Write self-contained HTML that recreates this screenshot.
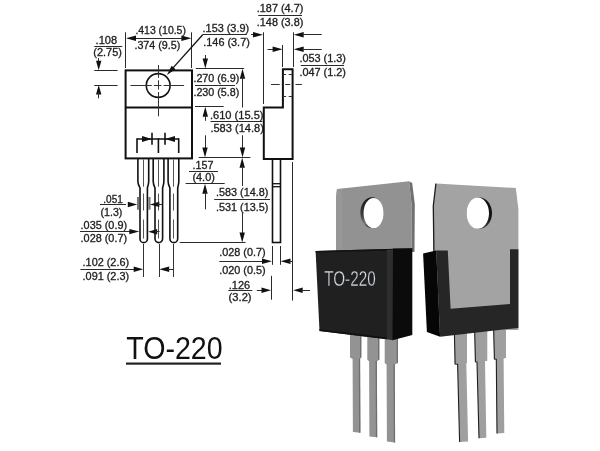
<!DOCTYPE html>
<html><head><meta charset="utf-8"><style>
html,body{margin:0;padding:0;background:#fff;}
svg{display:block;font-family:"Liberation Sans",sans-serif;will-change:transform;filter:blur(0.35px);}
</style></head><body>
<svg width="600" height="451" viewBox="0 0 600 451">
<rect width="600" height="451" fill="#fff"/>
<rect x="125.6" y="70.4" width="66.4" height="88" fill="none" stroke="#111" stroke-width="2"/>
<line x1="125.6" y1="107.6" x2="192" y2="107.6" stroke="#111" stroke-width="2"/>
<circle cx="158.2" cy="85.5" r="11.9" fill="none" stroke="#111" stroke-width="1.6"/>
<line x1="130.4" y1="85.5" x2="151.8" y2="85.5" stroke="#333" stroke-width="1"/>
<line x1="153.9" y1="85.5" x2="161.5" y2="85.5" stroke="#333" stroke-width="1"/>
<line x1="163.6" y1="85.5" x2="184.1" y2="85.5" stroke="#333" stroke-width="1"/>
<line x1="158.5" y1="65" x2="158.5" y2="77.8" stroke="#333" stroke-width="1"/>
<line x1="158.5" y1="80.3" x2="158.5" y2="89.5" stroke="#333" stroke-width="1"/>
<line x1="158.5" y1="92" x2="158.5" y2="116.3" stroke="#333" stroke-width="1"/>
<line x1="137" y1="139" x2="179" y2="139" stroke="#111" stroke-width="1.5"/>
<line x1="137" y1="138.3" x2="137" y2="153" stroke="#111" stroke-width="1.6"/>
<line x1="158.4" y1="138.3" x2="158.4" y2="153" stroke="#111" stroke-width="1.6"/>
<line x1="178.7" y1="138.3" x2="178.7" y2="153" stroke="#111" stroke-width="1.6"/>
<line x1="152" y1="132.7" x2="152" y2="144.7" stroke="#111" stroke-width="1.6"/>
<line x1="165" y1="132.7" x2="165" y2="144.7" stroke="#111" stroke-width="1.6"/>
<polygon points="152.00,139.00 142.00,136.00 142.00,142.00" fill="#111"/>
<polygon points="165.00,139.00 175.00,136.00 175.00,142.00" fill="#111"/>
<path d="M137.9,159 L137.9,181.5 Q137.9,184 140,188 L140,238.89999999999998 A3.700000000000003,3.700000000000003 0 0 0 147.4,238.89999999999998 L147.4,188 Q148.7,184 148.7,181.5 L148.7,159" fill="none" stroke="#111" stroke-width="1.6"/>
<line x1="143.5" y1="159.5" x2="143.5" y2="186.7" stroke="#555" stroke-width="1"/>
<line x1="143.5" y1="193.5" x2="143.5" y2="210.5" stroke="#555" stroke-width="1"/>
<line x1="143.5" y1="219.5" x2="143.5" y2="238.5" stroke="#555" stroke-width="1"/>
<path d="M153.2,159 L153.2,181.5 Q153.2,184 155,188 L155,238.8 A3.799999999999997,3.799999999999997 0 0 0 162.6,238.8 L162.6,188 Q163.9,184 163.9,181.5 L163.9,159" fill="none" stroke="#111" stroke-width="1.6"/>
<line x1="158.5" y1="159.5" x2="158.5" y2="186.7" stroke="#555" stroke-width="1"/>
<line x1="158.5" y1="193.5" x2="158.5" y2="210.5" stroke="#555" stroke-width="1"/>
<line x1="158.5" y1="219.5" x2="158.5" y2="238.5" stroke="#555" stroke-width="1"/>
<path d="M168.1,159 L168.1,181.5 Q168.1,184 169.9,188 L169.9,238.7 A3.8999999999999915,3.8999999999999915 0 0 0 177.7,238.7 L177.7,188 Q178.8,184 178.8,181.5 L178.8,159" fill="none" stroke="#111" stroke-width="1.6"/>
<line x1="173.5" y1="159.5" x2="173.5" y2="186.7" stroke="#555" stroke-width="1"/>
<line x1="173.5" y1="193.5" x2="173.5" y2="210.5" stroke="#555" stroke-width="1"/>
<line x1="173.5" y1="219.5" x2="173.5" y2="238.5" stroke="#555" stroke-width="1"/>
<line x1="143.5" y1="244" x2="143.5" y2="277" stroke="#333" stroke-width="1"/>
<line x1="159.5" y1="244" x2="159.5" y2="277" stroke="#333" stroke-width="1"/>
<line x1="173.5" y1="244" x2="173.5" y2="277" stroke="#333" stroke-width="1"/>
<text x="95.6" y="44.00" font-size="10.0" fill="#1e1e1e" textLength="21.5" lengthAdjust="spacingAndGlyphs" stroke="#1e1e1e" stroke-width="0.3">.108</text>
<line x1="94.3" y1="46.5" x2="122.3" y2="46.5" stroke="#2a2a2a" stroke-width="1"/>
<text x="93.3" y="56.30" font-size="10.0" fill="#1e1e1e" textLength="28.6" lengthAdjust="spacingAndGlyphs" stroke="#1e1e1e" stroke-width="0.3">(2.75)</text>
<line x1="98.5" y1="58" x2="98.5" y2="62" stroke="#2a2a2a" stroke-width="1"/>
<polygon points="98.70,70.20 96.00,60.70 101.40,60.70" fill="#111"/>
<line x1="94.3" y1="70.5" x2="117.6" y2="70.5" stroke="#2a2a2a" stroke-width="1"/>
<line x1="94.3" y1="85.5" x2="117.6" y2="85.5" stroke="#2a2a2a" stroke-width="1"/>
<polygon points="98.70,85.10 96.00,94.60 101.40,94.60" fill="#111"/>
<line x1="98.5" y1="92" x2="98.5" y2="98.3" stroke="#2a2a2a" stroke-width="1"/>
<line x1="125.5" y1="32.3" x2="125.5" y2="68" stroke="#2a2a2a" stroke-width="1"/>
<line x1="191.5" y1="32.3" x2="191.5" y2="68" stroke="#2a2a2a" stroke-width="1"/>
<line x1="128" y1="38.5" x2="189" y2="38.5" stroke="#2a2a2a" stroke-width="1"/>
<polygon points="126.00,38.20 136.00,35.50 136.00,40.90" fill="#111"/>
<polygon points="191.40,38.20 181.40,35.50 181.40,40.90" fill="#111"/>
<text x="135.4" y="34.30" font-size="10.0" fill="#1e1e1e" textLength="50.5" lengthAdjust="spacingAndGlyphs" stroke="#1e1e1e" stroke-width="0.3">.413 (10.5)</text>
<text x="134.4" y="48.80" font-size="10.0" fill="#1e1e1e" textLength="46" lengthAdjust="spacingAndGlyphs" stroke="#1e1e1e" stroke-width="0.3">.374 (9.5)</text>
<line x1="202.5" y1="34.5" x2="246.7" y2="34.5" stroke="#2a2a2a" stroke-width="1"/>
<line x1="202.7" y1="34.7" x2="171" y2="70.1" stroke="#111" stroke-width="1.3"/>
<polygon points="166.9,74.9 175.50,69.16 171.61,65.70" fill="#111"/>
<text x="202.6" y="31.50" font-size="10.0" fill="#1e1e1e" textLength="46.5" lengthAdjust="spacingAndGlyphs" stroke="#1e1e1e" stroke-width="0.3">.153 (3.9)</text>
<text x="203.3" y="45.50" font-size="10.0" fill="#1e1e1e" textLength="46.5" lengthAdjust="spacingAndGlyphs" stroke="#1e1e1e" stroke-width="0.3">.146 (3.7)</text>
<line x1="195.8" y1="68.5" x2="244.2" y2="68.5" stroke="#2a2a2a" stroke-width="1"/>
<line x1="205.5" y1="55" x2="205.5" y2="60" stroke="#2a2a2a" stroke-width="1"/>
<polygon points="205.30,68.60 202.60,58.60 208.00,58.60" fill="#111"/>
<text x="193.4" y="81.50" font-size="10.0" fill="#1e1e1e" textLength="46" lengthAdjust="spacingAndGlyphs" stroke="#1e1e1e" stroke-width="0.3">.270 (6.9)</text>
<line x1="195" y1="85.5" x2="235" y2="85.5" stroke="#2a2a2a" stroke-width="1"/>
<text x="193.4" y="95.60" font-size="10.0" fill="#1e1e1e" textLength="46" lengthAdjust="spacingAndGlyphs" stroke="#1e1e1e" stroke-width="0.3">.230 (5.8)</text>
<line x1="195" y1="106.5" x2="223.7" y2="106.5" stroke="#2a2a2a" stroke-width="1"/>
<polygon points="205.30,106.80 202.60,116.80 208.00,116.80" fill="#111"/>
<line x1="205.5" y1="115" x2="205.5" y2="120.8" stroke="#2a2a2a" stroke-width="1"/>
<polygon points="242.50,68.80 239.80,78.80 245.20,78.80" fill="#111"/>
<line x1="242.5" y1="76" x2="242.5" y2="107.5" stroke="#2a2a2a" stroke-width="1"/>
<text x="210" y="118.50" font-size="10.0" fill="#1e1e1e" textLength="53.5" lengthAdjust="spacingAndGlyphs" stroke="#1e1e1e" stroke-width="0.3">.610 (15.5)</text>
<line x1="210.5" y1="121.5" x2="262.5" y2="121.5" stroke="#2a2a2a" stroke-width="1"/>
<text x="210.4" y="132.40" font-size="10.0" fill="#1e1e1e" textLength="53.5" lengthAdjust="spacingAndGlyphs" stroke="#1e1e1e" stroke-width="0.3">.583 (14.8)</text>
<line x1="242.5" y1="135.3" x2="242.5" y2="150" stroke="#2a2a2a" stroke-width="1"/>
<polygon points="242.50,157.60 239.80,147.60 245.20,147.60" fill="#111"/>
<line x1="198.7" y1="157.5" x2="250.4" y2="157.5" stroke="#2a2a2a" stroke-width="1"/>
<line x1="205.5" y1="135.3" x2="205.5" y2="150" stroke="#2a2a2a" stroke-width="1"/>
<polygon points="205.00,157.60 202.30,147.60 207.70,147.60" fill="#111"/>
<text x="192.6" y="169.10" font-size="10.0" fill="#1e1e1e" textLength="20.8" lengthAdjust="spacingAndGlyphs" stroke="#1e1e1e" stroke-width="0.3">.157</text>
<line x1="189" y1="171.5" x2="218" y2="171.5" stroke="#2a2a2a" stroke-width="1"/>
<text x="192.4" y="181.30" font-size="10.0" fill="#1e1e1e" textLength="22.5" lengthAdjust="spacingAndGlyphs" stroke="#1e1e1e" stroke-width="0.3">(4.0)</text>
<line x1="185.6" y1="183.5" x2="224.7" y2="183.5" stroke="#2a2a2a" stroke-width="1"/>
<polygon points="205.00,183.70 202.30,193.70 207.70,193.70" fill="#111"/>
<line x1="205.5" y1="192" x2="205.5" y2="209.3" stroke="#2a2a2a" stroke-width="1"/>
<polygon points="242.20,157.80 239.50,167.80 244.90,167.80" fill="#111"/>
<line x1="242.5" y1="166" x2="242.5" y2="186" stroke="#2a2a2a" stroke-width="1"/>
<text x="216" y="196.40" font-size="10.0" fill="#1e1e1e" textLength="52.3" lengthAdjust="spacingAndGlyphs" stroke="#1e1e1e" stroke-width="0.3">.583 (14.8)</text>
<line x1="214.2" y1="199.5" x2="270" y2="199.5" stroke="#2a2a2a" stroke-width="1"/>
<text x="216" y="210.60" font-size="10.0" fill="#1e1e1e" textLength="52.3" lengthAdjust="spacingAndGlyphs" stroke="#1e1e1e" stroke-width="0.3">.531 (13.5)</text>
<line x1="242.5" y1="212.7" x2="242.5" y2="234" stroke="#2a2a2a" stroke-width="1"/>
<polygon points="242.20,242.40 239.50,232.40 244.90,232.40" fill="#111"/>
<line x1="179.7" y1="242.5" x2="245.5" y2="242.5" stroke="#2a2a2a" stroke-width="1"/>
<text x="103.3" y="202.50" font-size="10.0" fill="#1e1e1e" textLength="19.5" lengthAdjust="spacingAndGlyphs" stroke="#1e1e1e" stroke-width="0.3">.051</text>
<line x1="100" y1="204.5" x2="126" y2="204.5" stroke="#2a2a2a" stroke-width="1"/>
<polygon points="137.30,204.50 127.80,201.80 127.80,207.20" fill="#111"/>
<text x="100.6" y="215.70" font-size="10.0" fill="#1e1e1e" textLength="21.8" lengthAdjust="spacingAndGlyphs" stroke="#1e1e1e" stroke-width="0.3">(1.3)</text>
<rect x="137" y="197" width="2.2" height="12.7" fill="#777"/>
<rect x="148.3" y="197" width="2.2" height="12.7" fill="#777"/>
<polygon points="149.80,204.40 159.30,201.70 159.30,207.10" fill="#111"/>
<line x1="157" y1="204.5" x2="162" y2="204.5" stroke="#2a2a2a" stroke-width="1"/>
<text x="80.6" y="228.90" font-size="10.0" fill="#1e1e1e" textLength="46.5" lengthAdjust="spacingAndGlyphs" stroke="#1e1e1e" stroke-width="0.3">.035 (0.9)</text>
<line x1="80" y1="231.5" x2="130" y2="231.5" stroke="#2a2a2a" stroke-width="1"/>
<polygon points="139.30,231.60 129.30,228.90 129.30,234.30" fill="#111"/>
<text x="80.6" y="242.20" font-size="10.0" fill="#1e1e1e" textLength="46.5" lengthAdjust="spacingAndGlyphs" stroke="#1e1e1e" stroke-width="0.3">.028 (0.7)</text>
<polygon points="148.20,231.70 157.20,229.00 157.20,234.40" fill="#111"/>
<line x1="155" y1="231.5" x2="159.5" y2="231.5" stroke="#2a2a2a" stroke-width="1"/>
<text x="82.6" y="266.10" font-size="10.0" fill="#1e1e1e" textLength="46.5" lengthAdjust="spacingAndGlyphs" stroke="#1e1e1e" stroke-width="0.3">.102 (2.6)</text>
<line x1="80.4" y1="269.5" x2="135" y2="269.5" stroke="#2a2a2a" stroke-width="1"/>
<polygon points="143.20,269.30 133.70,266.60 133.70,272.00" fill="#111"/>
<text x="82.6" y="279.90" font-size="10.0" fill="#1e1e1e" textLength="46.5" lengthAdjust="spacingAndGlyphs" stroke="#1e1e1e" stroke-width="0.3">.091 (2.3)</text>
<polygon points="159.20,269.20 169.20,266.50 169.20,271.90" fill="#111"/>
<line x1="168" y1="269.5" x2="173.3" y2="269.5" stroke="#2a2a2a" stroke-width="1"/>
<path d="M263.8,158.9 L263.8,107.6 L282.9,107.6 L282.9,69.3 L292.6,69.3 L292.6,158.9 Z" fill="none" stroke="#111" stroke-width="2"/>
<line x1="283" y1="74.5" x2="286.2" y2="74.5" stroke="#333" stroke-width="1"/>
<line x1="288.7" y1="74.5" x2="292" y2="74.5" stroke="#333" stroke-width="1"/>
<line x1="283" y1="96.5" x2="286.2" y2="96.5" stroke="#333" stroke-width="1"/>
<line x1="288.7" y1="96.5" x2="292" y2="96.5" stroke="#333" stroke-width="1"/>
<line x1="271" y1="84.5" x2="279.7" y2="84.5" stroke="#333" stroke-width="1"/>
<line x1="285.2" y1="84.5" x2="290.2" y2="84.5" stroke="#333" stroke-width="1"/>
<line x1="295.5" y1="84.5" x2="301.9" y2="84.5" stroke="#333" stroke-width="1"/>
<rect x="272.5" y="158.9" width="8" height="83.6" fill="none" stroke="#111" stroke-width="1.6"/>
<line x1="272.5" y1="183.7" x2="280.5" y2="183.7" stroke="#111" stroke-width="1.3"/>
<line x1="272.5" y1="186.7" x2="280.5" y2="186.7" stroke="#111" stroke-width="1.3"/>
<line x1="263.5" y1="32.3" x2="263.5" y2="104" stroke="#2a2a2a" stroke-width="1"/>
<line x1="293.5" y1="32.3" x2="293.5" y2="67" stroke="#2a2a2a" stroke-width="1"/>
<line x1="282.5" y1="45" x2="282.5" y2="67" stroke="#2a2a2a" stroke-width="1"/>
<line x1="292.5" y1="162" x2="292.5" y2="300.6" stroke="#2a2a2a" stroke-width="1"/>
<line x1="272.5" y1="246" x2="272.5" y2="264.8" stroke="#2a2a2a" stroke-width="1"/>
<line x1="280.5" y1="246" x2="280.5" y2="264.8" stroke="#2a2a2a" stroke-width="1"/>
<line x1="271.5" y1="275.8" x2="271.5" y2="299.7" stroke="#2a2a2a" stroke-width="1"/>
<text x="256.8" y="11.60" font-size="10.0" fill="#1e1e1e" textLength="46.5" lengthAdjust="spacingAndGlyphs" stroke="#1e1e1e" stroke-width="0.3">.187 (4.7)</text>
<line x1="258.3" y1="15.5" x2="302" y2="15.5" stroke="#2a2a2a" stroke-width="1"/>
<text x="256.8" y="25.70" font-size="10.0" fill="#1e1e1e" textLength="46.5" lengthAdjust="spacingAndGlyphs" stroke="#1e1e1e" stroke-width="0.3">.148 (3.8)</text>
<line x1="251" y1="34.5" x2="256" y2="34.5" stroke="#2a2a2a" stroke-width="1"/>
<polygon points="263.00,34.70 253.00,32.00 253.00,37.40" fill="#111"/>
<polygon points="293.70,34.70 303.70,32.00 303.70,37.40" fill="#111"/>
<line x1="302" y1="34.5" x2="321.7" y2="34.5" stroke="#2a2a2a" stroke-width="1"/>
<line x1="267.5" y1="49.5" x2="275" y2="49.5" stroke="#2a2a2a" stroke-width="1"/>
<polygon points="282.60,49.20 272.60,46.50 272.60,51.90" fill="#111"/>
<polygon points="293.70,49.20 303.70,46.50 303.70,51.90" fill="#111"/>
<line x1="302" y1="49.5" x2="321.7" y2="49.5" stroke="#2a2a2a" stroke-width="1"/>
<text x="299.4" y="62.00" font-size="10.0" fill="#1e1e1e" textLength="46.5" lengthAdjust="spacingAndGlyphs" stroke="#1e1e1e" stroke-width="0.3">.053 (1.3)</text>
<line x1="300.8" y1="65.5" x2="344" y2="65.5" stroke="#2a2a2a" stroke-width="1"/>
<text x="299.4" y="75.70" font-size="10.0" fill="#1e1e1e" textLength="46.5" lengthAdjust="spacingAndGlyphs" stroke="#1e1e1e" stroke-width="0.3">.047 (1.2)</text>
<text x="219.2" y="255.90" font-size="10.0" fill="#1e1e1e" textLength="46.5" lengthAdjust="spacingAndGlyphs" stroke="#1e1e1e" stroke-width="0.3">.028 (0.7)</text>
<line x1="219.3" y1="261.5" x2="263" y2="261.5" stroke="#2a2a2a" stroke-width="1"/>
<polygon points="272.00,261.20 262.00,258.50 262.00,263.90" fill="#111"/>
<text x="219.2" y="273.90" font-size="10.0" fill="#1e1e1e" textLength="46.5" lengthAdjust="spacingAndGlyphs" stroke="#1e1e1e" stroke-width="0.3">.020 (0.5)</text>
<polygon points="280.50,261.20 290.50,258.50 290.50,263.90" fill="#111"/>
<line x1="289" y1="261.5" x2="293" y2="261.5" stroke="#2a2a2a" stroke-width="1"/>
<text x="228.8" y="288.60" font-size="10.0" fill="#1e1e1e" textLength="21.3" lengthAdjust="spacingAndGlyphs" stroke="#1e1e1e" stroke-width="0.3">.126</text>
<line x1="228.4" y1="290.5" x2="252.3" y2="290.5" stroke="#2a2a2a" stroke-width="1"/>
<text x="228.6" y="300.50" font-size="10.0" fill="#1e1e1e" textLength="23" lengthAdjust="spacingAndGlyphs" stroke="#1e1e1e" stroke-width="0.3">(3.2)</text>
<line x1="256.8" y1="290.5" x2="262" y2="290.5" stroke="#2a2a2a" stroke-width="1"/>
<polygon points="271.00,290.20 261.50,287.50 261.50,292.90" fill="#111"/>
<polygon points="293.20,290.20 302.70,287.50 302.70,292.90" fill="#111"/>
<line x1="301" y1="290.5" x2="310" y2="290.5" stroke="#2a2a2a" stroke-width="1"/>
<text x="126.2" y="358.50" font-size="30.5" fill="#111" textLength="96.5" lengthAdjust="spacingAndGlyphs">TO-220</text>
<rect x="126" y="362.5" width="95" height="2.2" fill="#222"/>
<defs><linearGradient id="hf" x1="0" y1="0" x2="0" y2="1"><stop offset="0" stop-color="#151515"/><stop offset="0.55" stop-color="#3a3a3a"/><stop offset="0.85" stop-color="#777"/><stop offset="1" stop-color="#222"/></linearGradient><linearGradient id="hb" x1="0" y1="0" x2="0" y2="1"><stop offset="0" stop-color="#0c0c0c"/><stop offset="0.7" stop-color="#161616"/><stop offset="1" stop-color="#444"/></linearGradient></defs>
<polygon points="350.0,328 361.3,328 361.3,357.4 360.1,358.9 360.40000000000003,432.8 352.90000000000003,432.0 352.6,358.9 350.0,357.4" fill="#939393"/>
<polygon points="360.0,328 361.3,328 361.3,357.4 360.0,357.4" fill="#6e6e6e"/>
<polygon points="358.8,358.4 360.1,358.4 360.40000000000003,432.8 359.1,432.8" fill="#6e6e6e"/>
<polygon points="367.3,328 379.3,328 379.3,359.7 376.9,361.2 377.2,437.3 369.40000000000003,436.5 369.1,361.2 367.3,359.7" fill="#939393"/>
<polygon points="378.0,328 379.3,328 379.3,359.7 378.0,359.7" fill="#6e6e6e"/>
<polygon points="375.59999999999997,360.7 376.9,360.7 377.2,437.3 375.9,437.3" fill="#6e6e6e"/>
<polygon points="384.7,328 398.0,328 398.0,363.0 394.8,364.5 395.1,442.4 386.90000000000003,441.59999999999997 386.6,364.5 384.7,363.0" fill="#939393"/>
<polygon points="396.7,328 398.0,328 398.0,363.0 396.7,363.0" fill="#6e6e6e"/>
<polygon points="393.5,364.0 394.8,364.0 395.1,442.4 393.8,442.4" fill="#6e6e6e"/>
<path d="M337.1,188.9 L409.1,181.2 L411.5,203.5 L411.8,252 L336,252 L336,199.5 Q336.1,192 337.1,188.9 Z" fill="#929292"/>
<path d="M337.2,189.5 L342.5,189 L342.5,252 L336.2,252 L336.2,199.5 Z" fill="#999" opacity="0.8"/>
<polygon points="409.1,181.2 412.2,183 414.8,204.3 414.5,252 411.8,252 411.5,203.5" fill="#707070"/>
<ellipse cx="372" cy="212.7" rx="11.6" ry="15.4" fill="url(#hf)"/>
<ellipse cx="373.6" cy="213" rx="10" ry="15.1" fill="#fff"/>
<polygon points="315.6,250.9 387,248.9 387,339.3 319.5,331" fill="#202020"/>
<polygon points="315.6,250.9 412.3,248.3 412.3,249.9 315.6,252.5" fill="#121212"/>
<polygon points="319.3,329.3 387,337.4 387,339.3 319.5,331" fill="#111"/>
<polygon points="387,250.5 393,250.3 393,340.2 387,339.3" fill="#2e2e2e"/>
<polygon points="393,248.4 412.3,248.4 412.3,335 392.5,340.3" fill="#0b0b0b"/>
<text x="324.2" y="285.50" font-size="21.6" fill="#d6dde4" textLength="51.5" lengthAdjust="spacingAndGlyphs" stroke="#202020" stroke-width="0.35">TO-220</text>
<polygon points="454.3,328 467.0,328 467.0,363.0 466.3,363.5 468.1,441.6 459.6,442.1 457.6,364.0 454.8,364.2" fill="#9f9f9f"/>
<polyline points="454.3,328 455.1,364.0 457.6,364.2 459.6,442.1" fill="none" stroke="#1e1e1e" stroke-width="1.1"/>
<polygon points="474.6,328 487.3,328 487.3,360.7 485.0,361.2 486.3,437.7 479.0,438.2 477.0,361.7 475.1,361.9" fill="#9f9f9f"/>
<polyline points="474.6,328 475.40000000000003,361.7 477.0,361.9 479.0,438.2" fill="none" stroke="#1e1e1e" stroke-width="1.1"/>
<polygon points="493.6,328 506.0,328 506.0,358.0 503.6,358.5 504.3,433.0 497.0,433.5 496.3,359.0 494.1,359.2" fill="#9f9f9f"/>
<polyline points="493.6,328 494.40000000000003,359.0 496.3,359.2 497.0,433.5" fill="none" stroke="#1e1e1e" stroke-width="1.1"/>
<path d="M435.9,183.6 L515.8,188 L518.4,209 L518.4,330 L433.9,330 L433.3,206 Z" fill="#a3a3a3"/>
<polyline points="435.9,183.6 433.3,206 433.9,252" fill="none" stroke="#1c1c1c" stroke-width="1.3"/>
<ellipse cx="479.2" cy="213.2" rx="12.8" ry="15.7" fill="url(#hb)"/>
<ellipse cx="477.7" cy="213.2" rx="11.3" ry="15.6" fill="#fff"/>
<polygon points="423.1,253.5 436.2,250.5 440.1,336.7 426.9,332.1" fill="#060606"/>
<polygon points="436.2,250.5 447.8,250.5 450.6,308.8 510,304 510,249.3 518.4,249.3 518.4,327.9 440.1,336.7" fill="#262626"/>
</svg></body></html>
